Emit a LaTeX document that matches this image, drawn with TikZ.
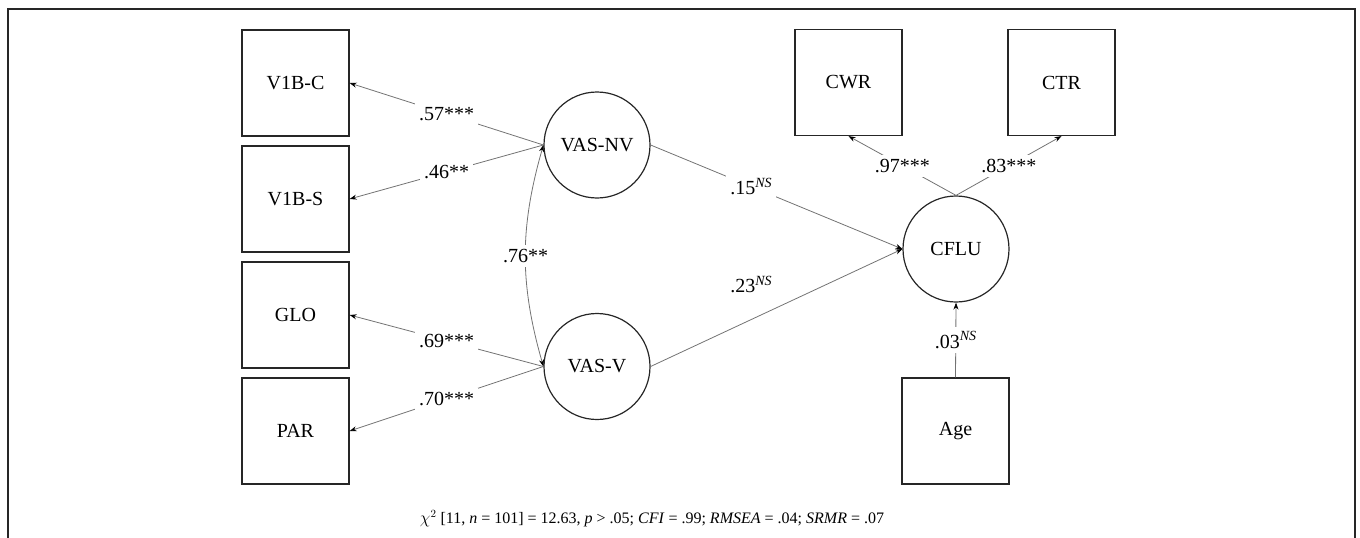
\documentclass[tikz,border=0pt]{standalone}
\usepackage{fontspec}
\setmainfont{Liberation Serif}
\usetikzlibrary{arrows.meta}
\begin{document}
\begin{tikzpicture}[x=1pt,y=-1pt,
  txt/.style={font=\fontsize{20}{24}\selectfont},
  box/.style={txt, draw=black!85, line width=1.2pt, minimum width=107pt, minimum height=106pt, inner sep=0pt},
  lat/.style={txt, draw=black!85, line width=1.2pt, circle, minimum size=106pt, inner sep=0pt},
  tip/.tip={Stealth[length=7pt,width=5pt,black]},
  conn/.style={draw=black!55, line width=0.8pt, -tip},
  lab/.style={txt, fill=white, inner sep=4pt}
]
\useasboundingbox (0,0) rectangle (1360,538);
\coordinate (f1) at (8,538);
\coordinate (f2) at (8,9);
\coordinate (f3) at (1355,9);
\coordinate (f4) at (1355,538);
\draw[line width=1.3pt, black!85] (f1) -- (f2) -- (f3) -- (f4);

\node[box] (v1bc) at (295.5,83) {V1B-C};
\node[box] (v1bs) at (295.5,199) {V1B-S};
\node[box] (glo) at (295.5,315) {GLO};
\node[box] (par) at (295.5,431) {PAR};
\node[lat] (nv) at (597,145) {VAS-NV};
\node[lat] (vv) at (597,366.5) {VAS-V};
\node[lat] (cflu) at (956,249) {CFLU};
\node[box] (cwr) at (848.5,82.5) {CWR};
\node[box] (ctr) at (1061.5,82.5) {CTR};
\node[box] (age) at (955.5,431) {Age};

\draw[conn] (nv.west) -- node[lab] (l57) {.57***} (v1bc.east);
\draw[conn] (nv.west) -- node[lab] (l46) {.46**} (v1bs.east);
\draw[conn] (vv.west) -- node[lab] (l69) {.69***} (glo.east);
\draw[conn] (vv.west) -- node[lab] (l70) {.70***} (par.east);
\draw[conn, tip-tip] (nv.west) to[bend right=16] node[lab] (l76) {.76**} (vv.west);
\draw[conn] (nv.east) -- node[lab, pos=0.4] (l15) {.15\textsuperscript{\textit{NS}}} (cflu.west);
\draw[conn] (vv.east) -- node[txt, pos=0.4, yshift=35pt] (l23) {.23\textsuperscript{\textit{NS}}} (cflu.west);
\draw[conn] (cflu.north) -- node[lab] (l97) {.97***} (cwr.south);
\draw[conn] (cflu.north) -- node[lab] (l83) {.83***} (ctr.south);
\draw[conn] (age.north) -- node[lab] (l03) {.03\textsuperscript{\textit{NS}}} (cflu.south);

\node[font=\fontsize{16}{19}\selectfont] (fit) at (652,519) {$\chi^2$ [11, \textit{n} = 101] = 12.63, \textit{p} > .05; \textit{CFI} = .99; \textit{RMSEA} = .04; \textit{SRMR} = .07};
\end{tikzpicture}
\end{document}
